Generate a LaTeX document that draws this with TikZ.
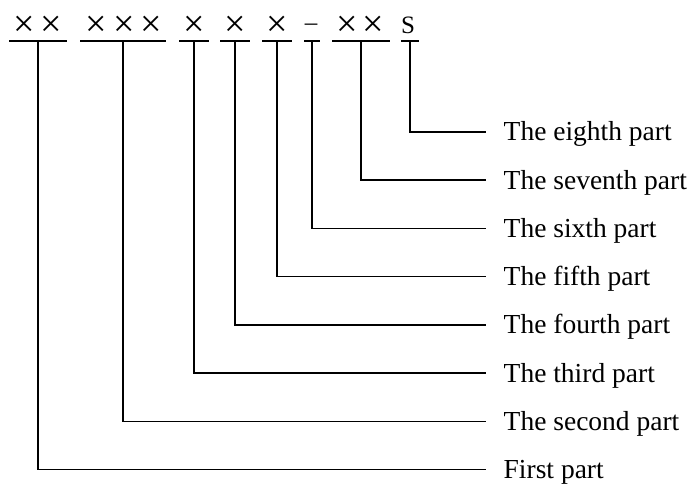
\documentclass[tikz,border=0pt]{standalone}
\usepackage{fontspec}
\setmainfont{Liberation Serif}
\begin{document}
\begin{tikzpicture}[x=1pt,y=-1pt,line width=1.4pt,
  sym/.style={inner sep=0pt,font=\fontsize{38}{40}\selectfont},
  chr/.style={inner sep=0pt,font=\fontsize{25}{27}\selectfont},
  bar/.style={inner sep=0pt,minimum height=0pt,minimum width=#1},
  lab/.style={anchor=west,inner xsep=17pt,inner ysep=0pt,text height=24pt,text depth=6pt,
    font=\fontsize{27.5}{30}\selectfont}]
  \useasboundingbox (0,0) rectangle (691,484);
  % code symbols
  \node[sym] (s1) at (38,26) {×\hspace{6pt}×};
  \node[sym] (s2) at (124,26) {×\hspace{6pt}×\hspace{6pt}×};
  \node[sym] (s3) at (194,26) {×};
  \node[sym] (s4) at (235,26) {×};
  \node[sym] (s5) at (277,26) {×};
  \node[chr,anchor=base] (s6) at (311,30.5) {–};
  \node[sym] (s7) at (360,26) {×\hspace{4.5pt}×};
  \node[chr] (s8) at (408,25) {S};
  % underlines
  \node[bar=56] (b1) at (38,41) {};
  \node[bar=84] (b2) at (123,41) {};
  \node[bar=28] (b3) at (194,41) {};
  \node[bar=28] (b4) at (235,41) {};
  \node[bar=28] (b5) at (277,41) {};
  \node[bar=14] (b6) at (312,41) {};
  \node[bar=56] (b7) at (361,41) {};
  \node[bar=16] (b8) at (410,41) {};
  \foreach \i in {1,...,8}
    \draw (b\i.west) -- (b\i.east);
  % labels
  \node[lab] (l8) at (486,132) {The eighth part};
  \node[lab] (l7) at (486,180.2) {The seventh part};
  \node[lab] (l6) at (486,228.4) {The sixth part};
  \node[lab] (l5) at (486,276.6) {The fifth part};
  \node[lab] (l4) at (486,324.8) {The fourth part};
  \node[lab] (l3) at (486,373) {The third part};
  \node[lab] (l2) at (486,421.2) {The second part};
  \node[lab] (l1) at (486,469.4) {First part};
  % leaders
  \foreach \i in {1,...,8}
    \draw (b\i.center) |- (l\i.west);
\end{tikzpicture}
\end{document}
